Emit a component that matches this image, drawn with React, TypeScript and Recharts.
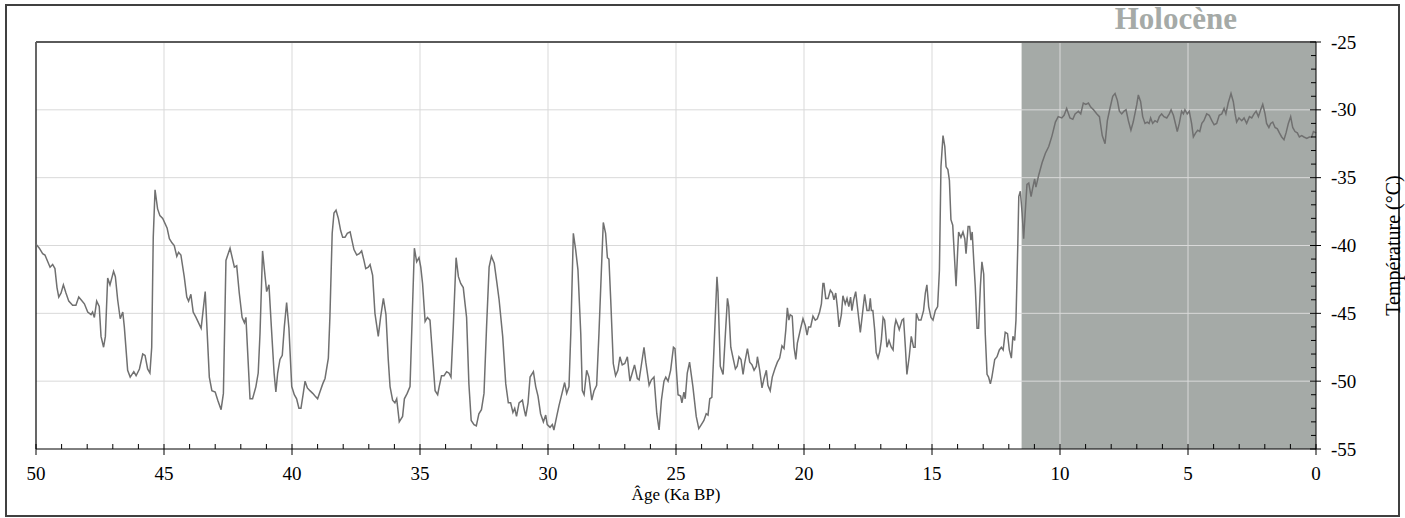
import React from "react";
import {
  LineChart,
  Line,
  XAxis,
  YAxis,
  ReferenceArea,
  ReferenceLine,
} from "recharts";

// age in ka BP
const ages = [
  50.0, 49.87, 49.74, 49.65, 49.54, 49.45, 49.35, 49.26, 49.18, 49.11, 49.02, 48.93, 48.83, 48.72, 48.57, 48.44,
  48.33, 48.24, 48.11, 47.98, 47.85, 47.79, 47.72, 47.63, 47.53, 47.46, 47.36, 47.29, 47.2, 47.11, 46.97, 46.9,
  46.81, 46.71, 46.61, 46.55, 46.42, 46.32, 46.18, 46.09, 45.96, 45.83, 45.74, 45.64, 45.55, 45.48, 45.42, 45.35,
  45.25, 45.16, 45.05, 44.88, 44.79, 44.69, 44.6, 44.5, 44.43, 44.34, 44.21, 44.11, 44.04, 43.95, 43.86, 43.75,
  43.55, 43.39, 43.23, 43.13, 43.0, 42.9, 42.77, 42.68, 42.58, 42.51, 42.42, 42.25, 42.16, 42.06, 41.95, 41.86,
  41.8, 41.64,
  41.54, 41.41, 41.32, 41.25, 41.15, 41.05, 40.99, 40.9, 40.8, 40.7, 40.63, 40.56, 40.47, 40.38, 40.3, 40.21,
  40.12, 40.01, 39.91, 39.82, 39.73, 39.65, 39.56, 39.49, 39.4, 39.3, 39.19, 39.1, 39.0, 38.91, 38.8, 38.71,
  38.58, 38.52, 38.43, 38.36, 38.28, 38.19, 38.1, 38.02, 37.93, 37.84, 37.73, 37.58, 37.47, 37.37, 37.28, 37.19,
  37.12, 37.02, 36.95, 36.85, 36.76, 36.63, 36.54, 36.43, 36.33, 36.24, 36.17, 36.07, 35.98, 35.91, 35.81, 35.68,
  35.61, 35.5, 35.39, 35.3, 35.22, 35.13, 35.04, 34.97, 34.9, 34.8, 34.71, 34.61, 34.5, 34.41, 34.31, 34.25,
  34.16, 34.06, 33.96, 33.87, 33.79, 33.7, 33.59, 33.5, 33.41, 33.31, 33.24,
  33.18, 33.09, 33.0, 32.89, 32.8, 32.7, 32.6, 32.5, 32.4, 32.3, 32.21, 32.1, 32.0, 31.91, 31.77, 31.65,
  31.55, 31.46, 31.37, 31.3, 31.23, 31.13, 31.0, 30.94, 30.87, 30.78, 30.7, 30.57, 30.48, 30.39, 30.29, 30.18,
  30.09, 30.03, 29.92, 29.83, 29.77, 29.66, 29.57, 29.48, 29.35, 29.27, 29.18, 29.11, 29.01, 28.92, 28.83, 28.72,
  28.66, 28.59, 28.49, 28.4, 28.29, 28.2, 28.1, 28.01, 27.92, 27.84, 27.75, 27.68, 27.62, 27.55, 27.45, 27.36,
  27.27, 27.19, 27.1, 27.0, 26.9, 26.8, 26.71, 26.62, 26.51, 26.44, 26.36, 26.25, 26.18, 26.05, 25.96, 25.86,
  25.75, 25.66, 25.57, 25.47, 25.4, 25.31, 25.21, 25.1, 25.04, 24.92,
  24.82, 24.77, 24.69, 24.64, 24.56, 24.47, 24.34, 24.21, 24.11, 24.01, 23.91, 23.82, 23.75, 23.68, 23.6, 23.53,
  23.4, 23.36, 23.27, 23.16, 23.07, 22.99, 22.94, 22.86, 22.77, 22.68, 22.61, 22.54, 22.46, 22.38, 22.32, 22.21,
  22.12, 22.03, 21.95, 21.86, 21.82, 21.73, 21.64, 21.56, 21.47, 21.41, 21.32, 21.24, 21.14, 21.04, 20.95, 20.86,
  20.78, 20.71, 20.65, 20.59, 20.54, 20.46, 20.39, 20.32, 20.26, 20.13, 20.04, 19.95, 19.88, 19.82, 19.74, 19.65,
  19.56, 19.48, 19.39, 19.32, 19.26, 19.22, 19.15, 19.06, 18.97, 18.89, 18.83, 18.76, 18.7, 18.63, 18.54, 18.48,
  18.39, 18.32, 18.25, 18.18, 18.13, 18.06, 17.98, 17.89, 17.8, 17.72, 17.63, 17.54, 17.46, 17.41, 17.37, 17.31,
  17.24, 17.18, 17.11, 17.04, 16.98, 16.91, 16.85, 16.76, 16.68, 16.59, 16.52,
  16.46, 16.41, 16.33, 16.28, 16.17, 16.11, 16.04, 15.98, 15.89, 15.81, 15.72, 15.66, 15.61, 15.52, 15.43, 15.33,
  15.26, 15.2, 15.13, 15.04, 14.96, 14.87, 14.78, 14.71, 14.65, 14.57, 14.5, 14.45, 14.38, 14.32, 14.26, 14.19,
  14.13, 14.06, 14.0, 13.96, 13.87, 13.79, 13.72, 13.67, 13.59, 13.53, 13.48, 13.43, 13.37, 13.31, 13.24, 13.18,
  13.11, 13.05, 12.98, 12.92, 12.85, 12.79, 12.72, 12.66, 12.55, 12.46, 12.37, 12.29, 12.22, 12.14, 12.05, 11.98,
  11.9, 11.84, 11.77, 11.72, 11.65, 11.61, 11.55, 11.48, 11.42, 11.36, 11.29, 11.22, 11.13, 11.07, 10.99, 10.94,
  10.83, 10.7, 10.57, 10.44, 10.31, 10.18,
  10.07, 9.93, 9.84, 9.74, 9.61, 9.5, 9.41, 9.28, 9.19, 9.09, 8.99, 8.89, 8.8, 8.69, 8.56, 8.46,
  8.35, 8.24, 8.15, 8.05, 7.94, 7.85, 7.76, 7.68, 7.59, 7.5, 7.42, 7.33, 7.23, 7.14, 7.0, 6.94,
  6.85, 6.77, 6.68, 6.59, 6.52, 6.46, 6.38, 6.29, 6.2, 6.12, 6.03, 5.94, 5.83, 5.73, 5.66, 5.57,
  5.48, 5.42, 5.34, 5.25, 5.18, 5.12, 5.03, 4.95, 4.86, 4.79, 4.7, 4.62, 4.54, 4.46, 4.38, 4.27,
  4.17, 4.07, 3.98, 3.88, 3.78, 3.68, 3.59, 3.52, 3.43, 3.32, 3.23, 3.16, 3.1, 3.01, 2.9, 2.81,
  2.71, 2.6, 2.51, 2.42, 2.34, 2.25, 2.16, 2.08, 1.99, 1.93, 1.84, 1.77, 1.69, 1.6, 1.51, 1.43,
  1.34, 1.25, 1.17, 1.08, 0.99, 0.91, 0.82, 0.73, 0.65, 0.56, 0.47, 0.36, 0.26, 0.17, 0.1, 0.0,
];

// temperature in °C
const temps = [
  -39.9, -40.2, -40.6, -40.7, -41.2, -41.6, -41.4, -41.7, -43.1, -43.8, -43.5, -42.9, -43.5, -44.1, -44.4, -44.4,
  -43.8, -44.0, -44.3, -44.9, -45.1, -44.9, -45.3, -44.1, -44.5, -46.7, -47.5, -46.7, -42.4, -42.9, -41.9, -42.3,
  -44.0, -45.4, -44.9, -46.0, -49.2, -49.7, -49.3, -49.6, -49.1, -48.0, -48.1, -49.1, -49.4, -47.5, -39.4, -35.9,
  -37.3, -37.8, -38.0, -38.7, -39.5, -39.8, -40.0, -40.8, -40.5, -40.7, -42.3, -43.8, -44.1, -43.6, -44.9, -45.3,
  -46.1, -43.4, -49.7, -50.7, -50.8, -51.4, -52.1, -50.9, -41.1, -40.7, -40.2, -41.6, -41.5, -43.5, -45.3, -45.7,
  -45.3, -51.3,
  -51.3, -50.4, -49.4, -46.5, -40.4, -42.3, -43.4, -42.9, -46.2, -49.4, -50.8, -49.4, -48.4, -48.1, -46.0, -44.2,
  -46.1, -50.4, -51.0, -51.3, -52.0, -52.0, -50.9, -50.0, -50.5, -50.7, -50.9, -51.1, -51.3, -50.8, -50.2, -49.8,
  -48.3, -45.3, -39.1, -37.6, -37.4, -38.0, -38.9, -39.4, -39.4, -39.1, -39.0, -40.3, -40.7, -40.6, -40.4, -41.1,
  -41.7, -41.6, -41.4, -42.2, -45.0, -46.7, -45.3, -43.9, -45.1, -48.4, -50.4, -51.4, -51.6, -51.3, -53.0, -52.6,
  -51.3, -50.9, -50.4, -45.0, -40.2, -41.2, -40.9, -41.6, -42.8, -45.6, -45.3, -45.5, -48.4, -50.7, -51.0, -50.4,
  -49.6, -49.6, -49.3, -49.4, -49.7, -46.0, -40.9, -42.3, -42.8, -43.1, -44.3,
  -45.3, -50.2, -52.9, -53.2, -53.3, -52.4, -52.1, -50.9, -46.0, -41.6, -40.8, -41.3, -42.7, -44.0, -46.7, -50.2,
  -51.6, -51.6, -52.3, -52.0, -52.6, -51.6, -51.4, -52.0, -52.6, -51.6, -49.7, -49.3, -50.4, -51.1, -52.4, -53.0,
  -52.5, -53.2, -53.4, -53.2, -53.6, -52.6, -51.8, -51.1, -50.1, -50.9, -50.4, -46.5, -39.1, -40.3, -41.8, -46.5,
  -50.7, -51.0, -49.2, -49.7, -51.4, -50.7, -50.3, -46.5, -42.1, -38.3, -39.1, -40.9, -41.0, -44.0, -48.7, -49.6,
  -49.2, -48.2, -48.8, -48.7, -48.2, -50.0, -49.4, -48.8, -49.8, -49.9, -48.9, -47.5, -48.6, -50.3, -49.9, -49.7,
  -52.4, -53.6, -51.4, -50.0, -49.7, -50.0, -49.2, -47.5, -47.6, -51.0,
  -51.1, -51.6, -50.8, -51.3, -49.4, -48.6, -50.4, -52.6, -53.5, -53.2, -52.9, -52.4, -52.5, -51.3, -51.2, -48.2,
  -42.3, -43.4, -48.9, -49.5, -46.5, -43.9, -44.5, -47.5, -48.3, -49.1, -48.9, -48.2, -48.4, -49.5, -48.7, -47.6,
  -48.6, -48.8, -49.2, -48.9, -48.2, -49.2, -50.5, -49.8, -49.2, -50.3, -50.7, -49.7, -49.1, -48.6, -48.3, -47.4,
  -47.6, -46.2, -44.6, -45.5, -45.1, -45.2, -47.5, -48.4, -47.2, -46.1, -45.4, -45.9, -46.6, -46.0, -46.0, -45.2,
  -45.5, -45.4, -44.9, -44.3, -42.8, -42.8, -43.9, -43.9, -43.3, -43.5, -44.0, -43.5, -44.5, -46.0, -45.1, -43.7,
  -44.3, -43.9, -44.5, -43.8, -44.8, -44.0, -43.4, -44.9, -46.4, -45.1, -43.6, -44.8, -44.8, -43.9, -44.8, -44.8,
  -46.2, -47.9, -48.3, -47.8, -47.0, -45.3, -45.5, -47.5, -47.0, -47.5, -47.7,
  -46.0, -45.5, -45.9, -46.2, -45.5, -45.4, -47.5, -49.5, -48.2, -46.7, -47.5, -47.5, -45.0, -45.5, -45.5, -44.8,
  -43.5, -42.9, -44.5, -45.3, -45.5, -44.8, -44.5, -41.8, -34.2, -31.9, -32.7, -34.2, -34.4, -35.2, -38.1, -38.5,
  -40.6, -43.0, -40.5, -39.0, -39.4, -39.0, -39.5, -40.6, -38.6, -38.6, -39.6, -39.0, -41.1, -43.0, -46.1, -46.1,
  -43.0, -41.2, -42.1, -46.5, -49.5, -49.7, -50.2, -49.7, -48.4, -48.2, -47.7, -47.5, -47.7, -46.4, -46.5, -47.7,
  -48.3, -46.7, -47.0, -45.5, -40.1, -36.4, -36.0, -37.6, -39.5, -37.6, -35.5, -35.4, -36.4, -35.8, -35.1, -35.7,
  -34.8, -33.9, -33.2, -32.7, -31.9, -30.9,
  -30.5, -30.6, -30.4, -29.9, -30.6, -30.7, -30.3, -30.1, -30.3, -29.5, -29.6, -29.5, -29.8, -30.0, -30.3, -30.5,
  -31.9, -32.5, -30.8, -29.9, -29.0, -28.8, -29.3, -30.1, -30.3, -30.1, -30.0, -30.8, -31.5, -30.9, -29.6, -28.9,
  -29.4, -30.5, -31.0, -30.9, -31.0, -30.6, -31.0, -30.8, -30.9, -30.5, -30.3, -30.5, -30.6, -30.3, -30.0, -30.4,
  -31.1, -31.6, -31.0, -30.1, -30.3, -30.0, -30.3, -30.1, -31.0, -32.0, -31.7, -31.5, -31.6, -31.0, -30.8, -30.3,
  -30.4, -30.8, -31.1, -31.0, -30.4, -30.3, -29.9, -30.3, -29.5, -28.8, -29.4, -30.3, -30.9, -30.6, -30.8, -30.6,
  -31.0, -30.5, -30.6, -30.3, -30.1, -30.5, -30.0, -29.6, -30.3, -31.0, -31.3, -31.0, -30.9, -31.3, -31.4, -31.7,
  -32.0, -32.2, -31.7, -31.0, -30.5, -31.3, -31.6, -31.7, -32.0, -31.9, -32.0, -32.1, -32.0, -32.0, -31.6, -31.7,
];

const data = ages.map((age, i) => ({ age, temp: temps[i] }));

const xTicks = Array.from({ length: 51 }, (_, i) => i);
const yTicks = Array.from({ length: 31 }, (_, i) => -55 + i);
const gridAges = [45, 40, 35, 30, 25, 20, 15, 10, 5];
const gridTemps = [-30, -35, -40, -45, -50];

const holoceneStart = 11.5;
const holoceneEnd = 0;

const serif = "'Liberation Serif', 'Times New Roman', serif";

const XTick = (props: any) => {
  const { x, y, payload } = props;
  const major = payload.value % 5 === 0;
  return (
    <g>
      <line x1={x} x2={x} y1={y - 5} y2={major ? y + 6 : y} stroke="#000" />
      {major && (
        <text x={x} y={y + 31} textAnchor="middle" fontSize={19} fontFamily={serif} fill="#000">
          {payload.value}
        </text>
      )}
    </g>
  );
};

const YTick = (props: any) => {
  const { x, y, payload } = props;
  const major = payload.value % 5 === 0;
  return (
    <g>
      <line x1={x - (major ? 6 : 5)} x2={major ? x + 5 : x} y1={y} y2={y} stroke="#000" />
      {major && (
        <text x={x + 15} y={y + 6.5} textAnchor="start" fontSize={19} fontFamily={serif} fill="#000">
          {payload.value}
        </text>
      )}
    </g>
  );
};

export default function App() {
  return (
    <div style={{ position: "absolute", left: 0, top: 0, width: 1405, height: 518, background: "#fff" }}>
      <div
        style={{
          position: "absolute",
          left: 5,
          top: 4,
          width: 1395,
          height: 513,
          border: "2px solid #404040",
          boxSizing: "border-box",
        }}
      />
      <div style={{ position: "absolute", left: 0, top: 0 }}>
        <LineChart width={1405} height={518} data={data} margin={{ top: 42, right: 0, bottom: 0, left: 36 }}>
          <XAxis
            dataKey="age"
            type="number"
            domain={[0, 50]}
            reversed
            ticks={xTicks}
            interval={0}
            tickSize={0}
            tickMargin={0}
            tick={<XTick />}
            tickLine={false}
            axisLine={{ stroke: "#000" }}
            height={69}
            label={(p: any) => {
              const vb = p.viewBox;
              return (
                <text x={vb.x + vb.width / 2} y={vb.y + 51} textAnchor="middle" fontSize={17} fontFamily={serif} fill="#000">
                  Âge (Ka BP)
                </text>
              );
            }}
          />
          <YAxis
            orientation="right"
            type="number"
            domain={[-55, -25]}
            ticks={yTicks}
            interval={0}
            tickSize={0}
            tickMargin={0}
            tick={<YTick />}
            tickLine={false}
            axisLine={{ stroke: "#000" }}
            width={89}
            allowDataOverflow
            label={(p: any) => {
              const vb = p.viewBox;
              const cx = vb.x + 77;
              const cy = vb.y + vb.height / 2;
              return (
                <text
                  x={cx}
                  y={cy}
                  transform={`rotate(-90, ${cx}, ${cy})`}
                  textAnchor="middle"
                  dominantBaseline="central"
                  fontSize={20}
                  fontFamily={serif}
                  fill="#000"
                >
                  Température (°C)
                </text>
              );
            }}
          />
          <ReferenceArea
            x1={holoceneStart}
            x2={holoceneEnd}
            y1={-55}
            y2={-25}
            fill="#a5aaa7"
            fillOpacity={1}
            stroke="none"
            label={(p: any) => {
              const vb = p.viewBox;
              return (
                <text
                  x={vb.x + vb.width / 2 + 7}
                  y={vb.y - 13}
                  textAnchor="middle"
                  fontSize={31}
                  fontWeight="bold"
                  fontFamily={serif}
                  fill="#a5aaa7"
                >
                  Holocène
                </text>
              );
            }}
          />
          {gridAges.map((a) => (
            <ReferenceLine key={"ga" + a} x={a} stroke="#d9d9d9" strokeWidth={1} />
          ))}
          {gridTemps.map((t) => (
            <ReferenceLine key={"gt" + t} y={t} stroke="#d9d9d9" strokeWidth={1} />
          ))}
          <ReferenceLine x={50} stroke="#000" strokeWidth={1.2} />
          <ReferenceLine y={-25} stroke="#5a5a5a" strokeWidth={2} />
          <Line
            type="linear"
            dataKey="temp"
            stroke="#707070"
            strokeWidth={1.5}
            dot={false}
            activeDot={false}
            isAnimationActive={false}
          />
        </LineChart>
      </div>
    </div>
  );
}
